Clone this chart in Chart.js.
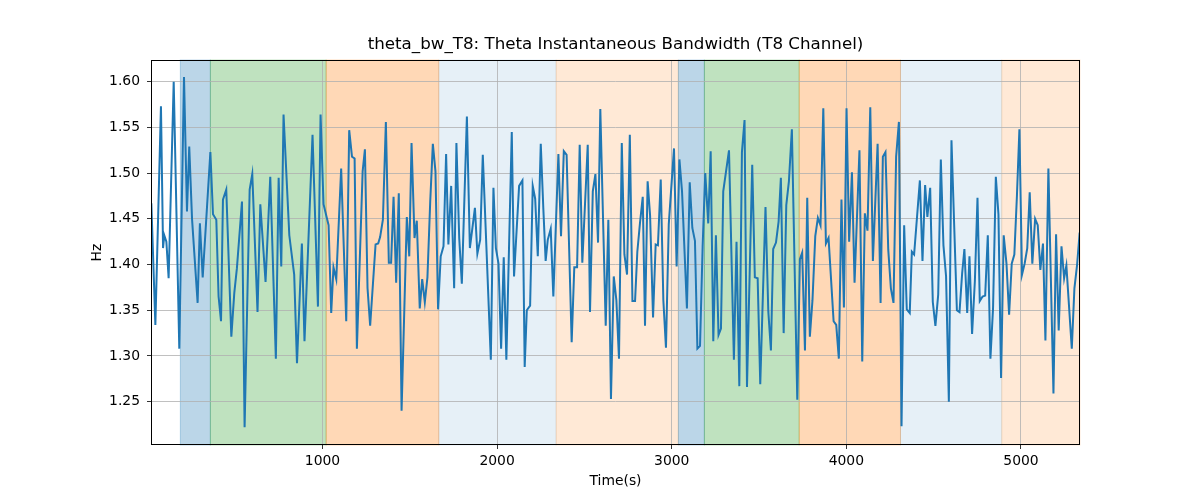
<!DOCTYPE html>
<html>
<head>
<meta charset="utf-8">
<script src="https://cdn.jsdelivr.net/npm/chart.js@4.4.1/dist/chart.umd.min.js"></script>
<style>
  html, body { margin: 0; padding: 0; background: #ffffff; }
  #wrap { width: 1200px; height: 500px; }
</style>
</head>
<body>
<div id="wrap"><canvas id="bwChart" width="1200" height="500"></canvas></div>
<script>
// time axis (seconds) and theta bandwidth (Hz)
const timeS = [
  20, 43, 75, 87, 94, 106, 119, 148, 180, 207, 224, 237, 253, 285, 298, 314, 358, 373, 392, 405,
  419, 430, 449, 478, 495, 510, 539, 554, 583, 598, 628, 644, 674, 701, 733, 749, 764, 777, 810, 838,
  854, 882, 897, 943, 974, 989, 1006, 1035, 1050, 1063, 1079,
  1107, 1136, 1153, 1169, 1184, 1197, 1230, 1243, 1258, 1273, 1304, 1319, 1330, 1346, 1363, 1380, 1393, 1407, 1422, 1437,
  1453, 1483, 1497, 1510, 1527, 1540, 1557, 1571, 1586, 1601, 1617, 1632, 1647, 1662, 1677, 1693, 1708, 1721, 1737, 1754,
  1767, 1783, 1798, 1827, 1844, 1873, 1887, 1903, 1918, 1964, 1979, 1993, 2008, 2023, 2038, 2053, 2084, 2097, 2126, 2145,
  2158, 2170, 2189,
  2204, 2218, 2233, 2250, 2265, 2278, 2290, 2307, 2322, 2351, 2366, 2382, 2398, 2427, 2442, 2458, 2473, 2488, 2519, 2532,
  2548, 2563, 2578, 2591, 2622, 2637, 2652, 2668, 2683, 2698, 2714, 2729, 2744, 2760, 2775, 2790, 2803, 2818, 2834, 2847,
  2862, 2876, 2893, 2908, 2921, 2937, 2952, 2967, 2983, 3013, 3028, 3044, 3059, 3087, 3103, 3118, 3133, 3147, 3162, 3177,
  3192, 3209, 3223, 3238, 3253, 3268,
  3282, 3295, 3328, 3356, 3371, 3387, 3402, 3417, 3431, 3461, 3476, 3492, 3507, 3537, 3553, 3568, 3581, 3597, 3612, 3625,
  3641, 3656, 3671, 3688, 3719, 3734, 3747, 3763, 3776, 3791, 3806, 3822, 3837, 3852, 3868, 3883, 3898, 3927, 3942, 3957,
  3972, 3986, 4001, 4016, 4032, 4047, 4075, 4091, 4106, 4121, 4137, 4152, 4179, 4196, 4209, 4224, 4240, 4255, 4270, 4285,
  4301, 4316, 4331, 4346, 4363,
  4375, 4388, 4421, 4436, 4451, 4464, 4480, 4495, 4510, 4526, 4541, 4556, 4571, 4587, 4602, 4633, 4648, 4663, 4676, 4692,
  4705, 4720, 4736, 4751, 4764, 4780, 4795, 4810, 4825, 4840, 4856, 4871, 4886, 4901, 4917, 4932, 4947, 4962, 4977, 4991,
  5006, 5021, 5036, 5050, 5065, 5081, 5096, 5111, 5126, 5140, 5157, 5186, 5201, 5216, 5232, 5247, 5260, 5291, 5306, 5321,
  5336
];
const bwHz = [
  1.467, 1.334, 1.573, 1.418, 1.432, 1.425, 1.385, 1.600, 1.308, 1.605, 1.458, 1.529, 1.450, 1.358, 1.445, 1.386, 1.523, 1.455, 1.449, 1.365,
  1.338, 1.471, 1.482, 1.321, 1.369, 1.396, 1.469, 1.222, 1.482, 1.499, 1.348, 1.466, 1.381, 1.496, 1.297, 1.495, 1.398, 1.564, 1.432, 1.389,
  1.292, 1.423, 1.316, 1.542, 1.354, 1.564, 1.466, 1.443, 1.347, 1.397, 1.384,
  1.505, 1.338, 1.547, 1.518, 1.516, 1.308, 1.502, 1.526, 1.374, 1.333, 1.422, 1.423, 1.430, 1.449, 1.556, 1.402, 1.402, 1.474, 1.380, 1.478,
  1.240, 1.452, 1.409, 1.533, 1.429, 1.448, 1.352, 1.384, 1.359, 1.386, 1.469, 1.532, 1.502, 1.351, 1.409, 1.420, 1.521, 1.422, 1.486, 1.374,
  1.533, 1.429, 1.379, 1.562, 1.418, 1.462, 1.412, 1.427, 1.520, 1.296, 1.484, 1.418, 1.401, 1.308, 1.408, 1.296, 1.545, 1.387, 1.486, 1.492,
  1.288, 1.350, 1.355,
  1.486, 1.472, 1.409, 1.532, 1.460, 1.404, 1.427, 1.439, 1.365, 1.521, 1.431, 1.524, 1.520, 1.315, 1.397, 1.397, 1.531, 1.402, 1.531, 1.348,
  1.480, 1.499, 1.424, 1.570, 1.333, 1.449, 1.253, 1.387, 1.361, 1.297, 1.533, 1.411, 1.389, 1.542, 1.360, 1.360, 1.414, 1.445, 1.474, 1.333,
  1.491, 1.454, 1.342, 1.422, 1.421, 1.493, 1.361, 1.309, 1.444, 1.527, 1.398, 1.515, 1.480, 1.352, 1.490, 1.440, 1.426, 1.308, 1.311, 1.420,
  1.500, 1.445, 1.524, 1.316, 1.432, 1.323,
  1.330, 1.480, 1.525, 1.296, 1.425, 1.267, 1.523, 1.558, 1.266, 1.509, 1.386, 1.385, 1.269, 1.463, 1.349, 1.306, 1.417, 1.424, 1.447, 1.495,
  1.325, 1.465, 1.491, 1.548, 1.252, 1.406, 1.413, 1.306, 1.473, 1.321, 1.361, 1.431, 1.451, 1.443, 1.571, 1.423, 1.429, 1.338, 1.334, 1.297,
  1.471, 1.353, 1.571, 1.425, 1.501, 1.380, 1.525, 1.294, 1.456, 1.437, 1.572, 1.404, 1.532, 1.358, 1.518, 1.523, 1.416, 1.374, 1.358, 1.518,
  1.556, 1.223, 1.443, 1.351, 1.347,
  1.414, 1.411, 1.492, 1.404, 1.487, 1.452, 1.484, 1.359, 1.333, 1.367, 1.515, 1.421, 1.387, 1.250, 1.536, 1.350, 1.348, 1.390, 1.417, 1.347,
  1.409, 1.324, 1.382, 1.473, 1.360, 1.365, 1.366, 1.432, 1.297, 1.352, 1.496, 1.455, 1.276, 1.432, 1.401, 1.345, 1.401, 1.411, 1.476, 1.548,
  1.389, 1.401, 1.418, 1.479, 1.401, 1.450, 1.443, 1.394, 1.423, 1.317, 1.505, 1.259, 1.433, 1.328, 1.420, 1.385, 1.399, 1.308, 1.374, 1.399,
  1.435
];

// shaded segments (seconds) and their fill
const spanStart = [186, 358, 1021, 1666, 2338, 3038, 3187, 3730, 4310, 4890];
const spanEnd   = [358, 1021, 1666, 2338, 3038, 3187, 3730, 4310, 4890, 5338];
const spanFill  = [
  'rgba(31,119,180,0.3)', 'rgba(44,160,44,0.3)', 'rgba(255,127,14,0.3)', 'rgba(31,119,180,0.11)', 'rgba(255,127,14,0.17)',
  'rgba(31,119,180,0.3)', 'rgba(44,160,44,0.3)', 'rgba(255,127,14,0.3)', 'rgba(31,119,180,0.11)', 'rgba(255,127,14,0.17)'
];

const xTicks = [1000, 2000, 3000, 4000, 5000];
const yTicks = [1.25, 1.30, 1.35, 1.40, 1.45, 1.50, 1.55, 1.60];

const FONT = 'DejaVu Sans';

// hintergrund-bänder unter dem gitter
const spansPlugin = {
    id: 'spans',
    beforeDraw(chart) {
        const { ctx, chartArea: a, scales: { x } } = chart;
        ctx.save();
        spanStart.forEach((s, i) => {
            const x0 = Math.max(x.getPixelForValue(s), a.left);
            const x1 = Math.min(x.getPixelForValue(spanEnd[i]), a.right);
            ctx.fillStyle = spanFill[i];
            ctx.fillRect(x0, a.top, x1 - x0, a.bottom - a.top);
            ctx.strokeStyle = spanFill[i];
            ctx.lineWidth = 1;
            ctx.strokeRect(x0, a.top, x1 - x0, a.bottom - a.top);
        });
        ctx.restore();
    }
};

// rahmen um die achsenfläche
const framePlugin = {
    id: 'frame',
    afterDatasetsDraw(chart) {
        const { ctx, chartArea: a } = chart;
        ctx.save();
        ctx.strokeStyle = '#000000';
        ctx.lineWidth = 1;
        ctx.strokeRect(Math.round(a.left) + 0.5, Math.round(a.top) + 0.5,
            Math.round(a.right - a.left) - 1, Math.round(a.bottom - a.top) - 1);
        ctx.restore();
    }
};

const points = timeS.map((t, i) => ({ x: t, y: bwHz[i] }));

new Chart(document.getElementById('bwChart').getContext('2d'), {
    type: 'line',
    data: {
        datasets: [{
            label: 'theta_bw_T8',
            data: points,
            borderColor: '#1f77b4',
            borderWidth: 2,
            pointRadius: 0,
            tension: 0,
            fill: false
        }]
    },
    options: {
        responsive: false,
        animation: false,
        devicePixelRatio: 1,
        layout: { padding: { left: 0, right: 120, top: 0, bottom: 0 } },
        plugins: {
            legend: { display: false },
            tooltip: { enabled: false },
            title: {
                display: true,
                fullSize: false,
                text: 'theta_bw_T8: Theta Instantaneous Bandwidth (T8 Channel)',
                color: '#000000',
                font: { family: FONT, size: 16.7, weight: 'normal', lineHeight: 1.2 },
                padding: { top: 35, bottom: 5 }
            }
        },
        scales: {
            x: {
                type: 'linear',
                min: 18,
                max: 5338,
                afterFit: (scale) => { scale.height = 55; },
                afterBuildTicks: (scale) => { scale.ticks = xTicks.map(v => ({ value: v })); },
                border: { display: false },
                grid: { color: '#b0b0b0', lineWidth: 0.8, drawTicks: true, tickLength: 4, tickColor: '#000000' },
                ticks: {
                    color: '#000000',
                    font: { family: FONT, size: 13.9 },
                    padding: 4,
                    maxRotation: 0,
                    callback: (v) => String(v)
                },
                title: {
                    display: true,
                    text: 'Time(s)',
                    color: '#000000',
                    font: { family: FONT, size: 13.9 },
                    padding: { top: 0, bottom: 10.6 }
                }
            },
            y: {
                type: 'linear',
                min: 1.2026,
                max: 1.6237,
                afterFit: (scale) => { scale.width = 151; },
                afterBuildTicks: (scale) => { scale.ticks = yTicks.map(v => ({ value: v })); },
                border: { display: false },
                grid: { color: '#b0b0b0', lineWidth: 0.8, drawTicks: true, tickLength: 4, tickColor: '#000000' },
                ticks: {
                    color: '#000000',
                    font: { family: FONT, size: 13.9 },
                    padding: 7,
                    callback: (v) => v.toFixed(2)
                },
                title: {
                    display: true,
                    text: 'Hz',
                    color: '#000000',
                    font: { family: FONT, size: 13.9 },
                    padding: { top: 88.6, bottom: 0 }
                }
            }
        }
    },
    plugins: [spansPlugin, framePlugin]
});
</script>
</body>
</html>
